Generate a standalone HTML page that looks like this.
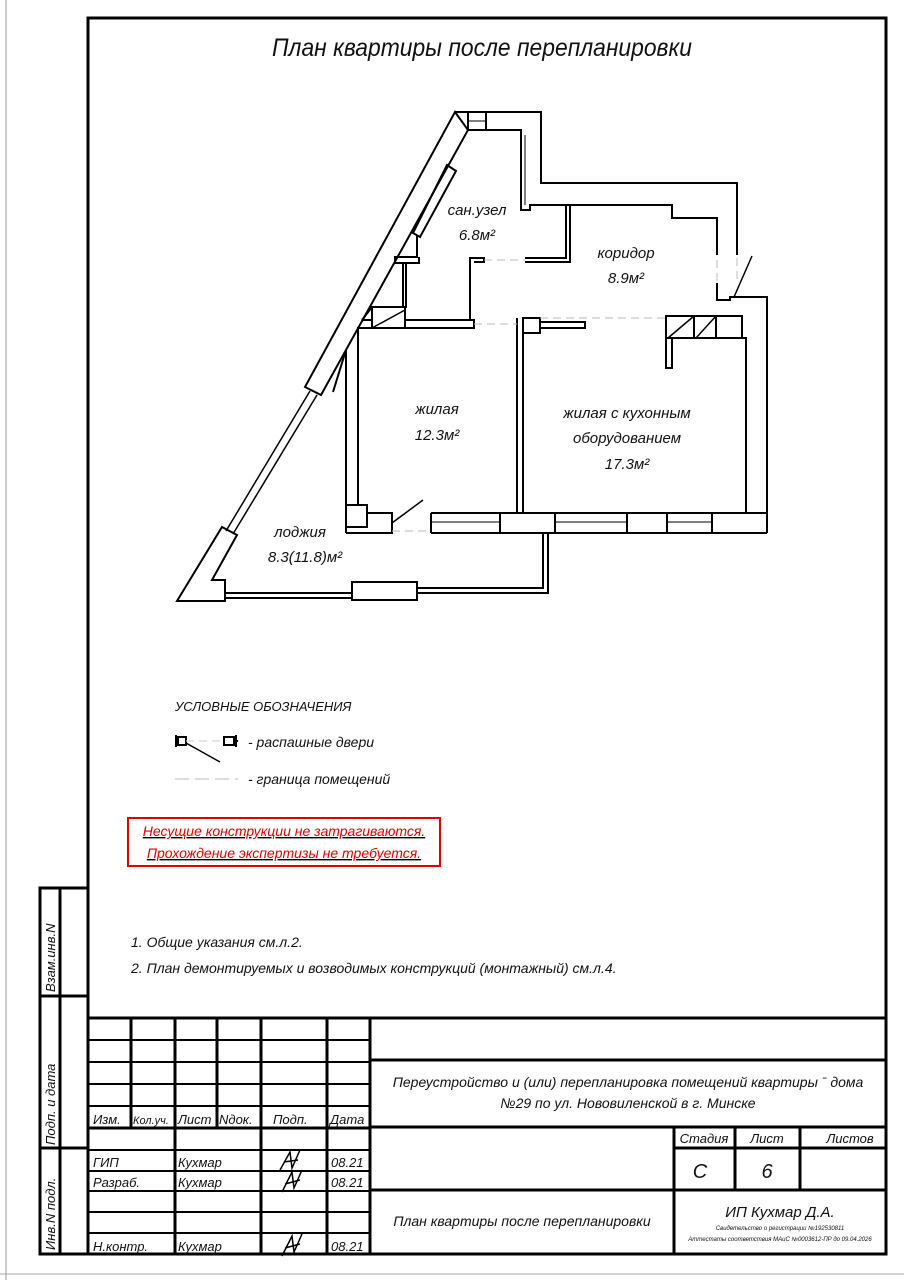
<!DOCTYPE html>
<html><head><meta charset="utf-8"><style>
html,body{margin:0;padding:0;background:#fff}
svg{display:block}
text{font-family:"Liberation Sans","DejaVu Sans",sans-serif;font-style:italic;fill:#111}
</style></head><body>
<svg width="904" height="1280" viewBox="0 0 904 1280" xmlns="http://www.w3.org/2000/svg">
<rect width="904" height="1280" fill="#fff"/>
<line x1="6" y1="0" x2="6" y2="1280" stroke="#999" stroke-width="1"/>
<line x1="0" y1="1274" x2="904" y2="1274" stroke="#aaa" stroke-width="1"/>
<rect x="88" y="18" width="798" height="1236" fill="none" stroke="#000" stroke-width="3"/>
<g stroke="#000" stroke-width="3" fill="none">
<rect x="40" y="888" width="48" height="366"/>
<line x1="60" y1="888" x2="60" y2="1254"/>
<line x1="40" y1="996" x2="88" y2="996"/>
<line x1="40" y1="1148" x2="88" y2="1148"/>
</g>
<text transform="translate(55,992) rotate(-90)" font-size="13">Взам.инв.N</text>
<text transform="translate(55,1145) rotate(-90)" font-size="13">Подп. и дата</text>
<text transform="translate(55,1250) rotate(-90)" font-size="13">Инв.N подл.</text>

<text x="482" y="56" font-size="25" text-anchor="middle" textLength="420" lengthAdjust="spacingAndGlyphs">План квартиры после перепланировки</text>

<g stroke="#000" stroke-width="2" fill="none">
<polyline points="455,112 541,112 541,183 737,183 737,255"/>
<polyline points="468,130 521,130 521,210 530,210 530,205 672,205 672,218 717,218 717,255"/>
<rect x="468" y="112" width="18" height="18"/>
<line x1="468" y1="121" x2="486" y2="121" stroke-width="1"/>
<line x1="525" y1="135" x2="525" y2="205" stroke-width="1"/>
<polygon points="455,112 468,130 321,395 305,387"/>
<line x1="310" y1="391" x2="226" y2="531" stroke-width="1.5"/>
<line x1="317" y1="395" x2="233" y2="534" stroke-width="1.5"/>
<polygon points="222,527 237,535 212,580 225,580 225,601 177,601"/>
<polygon points="447,165 456,171 420,237 413,233"/>
<polyline points="417,235 417,257 395,257 395,263 419,263 419,257"/>
<line x1="403" y1="263" x2="403" y2="308"/>
<line x1="406" y1="263" x2="406" y2="308"/>
<rect x="372" y="307" width="33" height="21"/>
<line x1="372" y1="328" x2="405" y2="310" stroke-width="1.5"/>
<polyline points="362,320 372,307"/>
<line x1="362" y1="320" x2="372" y2="320"/>
<polyline points="474,262 484,262 484,258 470,258 470,320"/>
<polyline points="525,262 570,262 570,205"/>
<polyline points="525,258 566,258 566,205"/>
<rect x="405" y="320" width="69" height="8" fill="#fff"/>
<polyline points="474,328 358,328 358,505"/>
<line x1="346" y1="350" x2="346" y2="533"/>
<line x1="346" y1="350" x2="333" y2="392"/>
<rect x="346" y="505" width="21" height="22"/>
<polyline points="367,513 392,513 392,533 346,533"/>
<line x1="392" y1="523" x2="423" y2="500" stroke-width="1.5"/>
<line x1="517" y1="318" x2="517" y2="513"/>
<line x1="523" y1="333" x2="523" y2="513"/>
<rect x="523" y="318" width="17" height="15"/>
<polyline points="540,322 585,322 585,328 540,328"/>
<polyline points="717,283 717,300 730,300 730,297 767,297 767,533"/>
<rect x="666" y="316" width="76" height="22"/>
<line x1="694" y1="316" x2="694" y2="338"/>
<line x1="716" y1="316" x2="716" y2="338"/>
<line x1="668" y1="338" x2="694" y2="316" stroke-width="1.5"/>
<line x1="696" y1="338" x2="716" y2="316" stroke-width="1.5"/>
<polyline points="742,338 746,338 746,513 523,513"/>
<polyline points="666,338 666,368 672,368 672,338"/>
<line x1="752" y1="256" x2="734" y2="297" stroke-width="1.5"/>
<polyline points="431,513 767,513"/>
<polyline points="431,533 767,533"/>
<line x1="431" y1="513" x2="431" y2="533"/>
<line x1="500" y1="513" x2="500" y2="533"/>
<line x1="555" y1="513" x2="555" y2="533"/>
<line x1="627" y1="513" x2="627" y2="533"/>
<line x1="667" y1="513" x2="667" y2="533"/>
<line x1="712" y1="513" x2="712" y2="533"/>
<line x1="431" y1="522" x2="500" y2="522" stroke-width="1"/>
<line x1="555" y1="522" x2="627" y2="522" stroke-width="1"/>
<line x1="667" y1="522" x2="712" y2="522" stroke-width="1"/>
<polyline points="548,533 548,593 417,593"/>
<polyline points="543,533 543,588 417,588"/>
<polyline points="352,593 225,593"/>
<polyline points="352,598 225,598"/>
<rect x="352" y="582" width="65" height="18" fill="#fff"/>
</g>
<g stroke="#bbb" stroke-width="1" stroke-dasharray="8,5">
<line x1="484" y1="260" x2="525" y2="260"/>
<line x1="474" y1="324" x2="517" y2="324"/>
<line x1="392" y1="531" x2="431" y2="531"/>
<line x1="717" y1="260" x2="717" y2="283"/>
<line x1="737" y1="258" x2="737" y2="283"/>
<line x1="540" y1="318" x2="666" y2="318"/>
</g>
<g font-size="15">
<text x="477" y="215" text-anchor="middle">сан.узел</text>
<text x="477" y="240" text-anchor="middle">6.8м²</text>
<text x="626" y="258" text-anchor="middle">коридор</text>
<text x="626" y="283" text-anchor="middle">8.9м²</text>
<text x="437" y="414" text-anchor="middle">жилая</text>
<text x="437" y="440" text-anchor="middle">12.3м²</text>
<text x="627" y="418" text-anchor="middle">жилая с кухонным</text>
<text x="627" y="443" text-anchor="middle">оборудованием</text>
<text x="627" y="469" text-anchor="middle">17.3м²</text>
<text x="300" y="537" text-anchor="middle">лоджия</text>
<text x="305" y="562" text-anchor="middle">8.3(11.8)м²</text>
</g>

<text x="175" y="711" font-size="13">УСЛОВНЫЕ ОБОЗНАЧЕНИЯ</text>
<g stroke="#000" stroke-width="2" fill="none">
<rect x="178" y="737" width="8" height="8"/><line x1="175" y1="741" x2="178" y2="741"/><line x1="176" y1="735" x2="176" y2="747"/>
<rect x="224" y="737" width="10" height="8"/><line x1="234" y1="741" x2="238" y2="741"/><line x1="236" y1="735" x2="236" y2="747"/>
<line x1="186" y1="743" x2="220" y2="762" stroke-width="1.5"/>
</g>
<line x1="186" y1="741" x2="224" y2="741" stroke="#ccc" stroke-width="1" stroke-dasharray="8,5"/>
<line x1="175" y1="779" x2="238" y2="779" stroke="#bbb" stroke-width="1" stroke-dasharray="14,6"/>
<text x="248" y="747" font-size="14">- распашные двери</text>
<text x="248" y="784" font-size="14">- граница помещений</text>
<rect x="128" y="818" width="312" height="48" fill="none" stroke="#e00000" stroke-width="2"/>
<g font-size="14" text-anchor="middle" text-decoration="underline">
<text x="284" y="836" style="fill:#e00000">Несущие конструкции не затрагиваются.</text>
<text x="284" y="858" style="fill:#e00000">Прохождение экспертизы не требуется.</text>
</g>

<text x="131" y="947" font-size="14">1. Общие указания см.л.2.</text>
<text x="131" y="973" font-size="14">2. План демонтируемых и возводимых конструкций (монтажный) см.л.4.</text>

<g stroke="#000" fill="none">
<line x1="88" y1="1018" x2="886" y2="1018" stroke-width="3"/>
<line x1="370" y1="1018" x2="370" y2="1254" stroke-width="3"/>
<g stroke-width="2">
<line x1="88" y1="1040" x2="370" y2="1040"/>
<line x1="88" y1="1062" x2="370" y2="1062"/>
<line x1="88" y1="1084" x2="370" y2="1084"/>
<line x1="88" y1="1106" x2="370" y2="1106"/>
<line x1="88" y1="1150" x2="370" y2="1150"/>
<line x1="88" y1="1171" x2="370" y2="1171"/>
<line x1="88" y1="1191" x2="370" y2="1191"/>
<line x1="88" y1="1212" x2="370" y2="1212"/>
<line x1="88" y1="1233" x2="370" y2="1233"/>
</g>
<line x1="88" y1="1128" x2="370" y2="1128" stroke-width="3"/>
<g stroke-width="3">
<line x1="131" y1="1018" x2="131" y2="1128"/>
<line x1="175" y1="1018" x2="175" y2="1254"/>
<line x1="217" y1="1018" x2="217" y2="1128"/>
<line x1="261" y1="1018" x2="261" y2="1254"/>
<line x1="327" y1="1018" x2="327" y2="1254"/>
<line x1="370" y1="1060" x2="886" y2="1060"/>
<line x1="370" y1="1127" x2="886" y2="1127"/>
<line x1="370" y1="1190" x2="886" y2="1190"/>
<line x1="674" y1="1127" x2="674" y2="1254"/>
<line x1="735" y1="1127" x2="735" y2="1190"/>
<line x1="800" y1="1127" x2="800" y2="1190"/>
<line x1="674" y1="1148" x2="886" y2="1148"/>
</g>
</g>
<g font-size="13">
<text x="93" y="1124">Изм.</text>
<text x="133" y="1124" font-size="11">Кол.уч.</text>
<text x="178" y="1124">Лист</text>
<text x="219" y="1124">Nдок.</text>
<text x="273" y="1124">Подп.</text>
<text x="330" y="1124">Дата</text>
<text x="93" y="1167">ГИП</text>
<text x="178" y="1167">Кухмар</text>
<text x="331" y="1167">08.21</text>
<text x="93" y="1187">Разраб.</text>
<text x="178" y="1187">Кухмар</text>
<text x="331" y="1187">08.21</text>
<text x="93" y="1251">Н.контр.</text>
<text x="178" y="1251">Кухмар</text>
<text x="331" y="1251">08.21</text>
</g>
<g stroke="#000" stroke-width="1.5" fill="none">
<path d="M280,1170 L290,1152 L292,1168 L300,1150 M284,1162 L298,1160"/>
<path d="M282,1192 L292,1172 L294,1188 L302,1170 M285,1184 L300,1180"/>
<path d="M282,1256 L292,1236 L294,1252 L302,1234 M285,1248 L300,1244"/>
</g>
<g font-size="14" text-anchor="middle">
<text x="628" y="1087">Переустройство и (или) перепланировка помещений квартиры   ˉ дома</text>
<text x="628" y="1108">№29 по ул. Нововиленской в г. Минске</text>
<text x="522" y="1226">План квартиры после перепланировки</text>
<text x="704" y="1143" font-size="13">Стадия</text>
<text x="767" y="1143" font-size="13">Лист</text>
<text x="850" y="1143" font-size="13">Листов</text>
<text x="700" y="1178" font-size="20">С</text>
<text x="767" y="1178" font-size="20">6</text>
<text x="780" y="1217" font-size="15">ИП Кухмар Д.А.</text>
<text x="780" y="1230" font-size="6">Свидетельство о регистрации №192530811</text>
<text x="780" y="1241" font-size="6">Аттестаты соответствия МАиС №0003612-ПР до 09.04.2026</text>
</g>
</svg>
</body></html>
